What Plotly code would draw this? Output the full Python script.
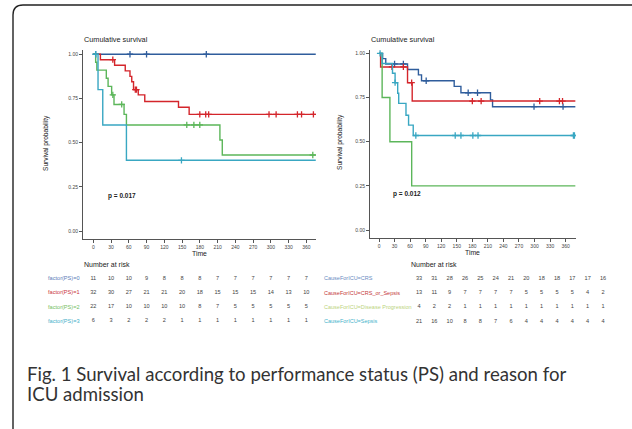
import plotly.graph_objects as go

W, H = 632, 429

# ---- Kaplan-Meier step data: performance status (PS) ----
ps_names = ["factor(PS)=0", "factor(PS)=1", "factor(PS)=2", "factor(PS)=3"]
ps_times = [
    [0, 376],
    [0, 12, 36, 54, 62, 65, 68, 76, 87, 144, 162, 376],
    [0, 4, 6, 22, 25, 31, 35, 52, 56, 214, 218, 376],
    [0, 8, 16, 56, 376],
]
ps_surv = [
    [1.0, 1.0],
    [1.0, 0.969, 0.938, 0.906, 0.875, 0.844, 0.80, 0.77, 0.733, 0.70, 0.66, 0.66],
    [1.0, 0.955, 0.91, 0.864, 0.818, 0.77, 0.716, 0.66, 0.60, 0.515, 0.43, 0.43],
    [1.0, 0.80, 0.60, 0.40, 0.40],
]
ps_cens_t = [
    [4, 62, 90, 191],
    [33, 71, 73, 180, 190, 195, 297, 309, 345, 352, 372],
    [33, 48, 158, 170, 180, 371],
    [4, 149],
]
ps_cens_s = [
    [1.0, 1.0, 1.0, 1.0],
    [0.969, 0.80, 0.80, 0.66, 0.66, 0.66, 0.66, 0.66, 0.66, 0.66, 0.66],
    [0.77, 0.716, 0.60, 0.60, 0.60, 0.43],
    [1.0, 0.40],
]

# ---- Kaplan-Meier step data: cause for ICU admission ----
icu_names = ["CauseForICU=CRS", "CauseForICU=CRS_or_Sepsis",
             "CauseForICU=Disease Progression", "CauseForICU=Sepsis"]
icu_times = [
    [0, 7, 13, 55, 76, 82, 145, 158, 215, 219, 379],
    [0, 3, 55, 64, 379],
    [0, 6, 21, 63, 379],
    [0, 6, 26, 31, 36, 38, 52, 57, 66, 379],
]
icu_surv = [
    [1.0, 0.97, 0.94, 0.909, 0.878, 0.845, 0.813, 0.777, 0.737, 0.698, 0.698],
    [1.0, 0.923, 0.834, 0.73, 0.73],
    [1.0, 0.75, 0.50, 0.25, 0.25],
    [1.0, 0.943, 0.887, 0.834, 0.774, 0.717, 0.65, 0.594, 0.535, 0.535],
]
icu_cens_t = [
    [30, 47, 91, 172, 190, 299, 355],
    [25, 47, 63, 180, 197, 310, 348, 354],
    [],
    [2, 31, 71, 147, 158, 181, 191, 375, 377],
]
icu_cens_s = [
    [0.94, 0.94, 0.845, 0.777, 0.777, 0.698, 0.698],
    [0.923, 0.923, 0.834, 0.73, 0.73, 0.73, 0.73, 0.73],
    [],
    [1.0, 0.834, 0.535, 0.535, 0.535, 0.535, 0.535, 0.535, 0.535],
]

# ---- number at risk tables ----
risk_times = [0, 30, 60, 90, 120, 150, 180, 210, 240, 270, 300, 330, 360]
ps_risk = [
    [11, 10, 10, 9, 8, 8, 8, 7, 7, 7, 7, 7, 7],
    [32, 30, 27, 21, 21, 20, 18, 15, 15, 15, 14, 13, 10],
    [22, 17, 10, 10, 10, 10, 8, 7, 5, 5, 5, 5, 5],
    [6, 3, 2, 2, 2, 1, 1, 1, 1, 1, 1, 1, 1],
]
icu_risk = [
    [33, 31, 28, 26, 25, 24, 21, 20, 18, 18, 17, 17, 16],
    [13, 11, 9, 7, 7, 7, 7, 5, 5, 5, 5, 4, 2],
    [4, 2, 2, 1, 1, 1, 1, 1, 1, 1, 1, 1, 1],
    [21, 16, 10, 8, 8, 7, 6, 4, 4, 4, 4, 4, 4],
]

curve_colors = ["#2f5d9c", "#d4252b", "#5cb65a", "#39a7c2"]
ps_label_colors = ["#5a7db8", "#c9343b", "#74c062", "#3fb0c9"]
icu_label_colors = ["#6a8cbf", "#c53a3a", "#bcd47e", "#45b3cb"]

FONT = "Liberation Sans, Arial, sans-serif"


def px(x):
    return x / W


def py(y):
    return 1 - y / H


fig = go.Figure()

# survival curves
for panel, (times, surv, ct, cs, names) in enumerate([
    (ps_times, ps_surv, ps_cens_t, ps_cens_s, ps_names),
    (icu_times, icu_surv, icu_cens_t, icu_cens_s, icu_names),
]):
    xa = "x" if panel == 0 else "x2"
    ya = "y" if panel == 0 else "y2"
    for i in range(4):
        fig.add_trace(go.Scatter(
            x=times[i], y=surv[i], mode="lines", line_shape="hv",
            line=dict(color=curve_colors[i], width=1.4),
            xaxis=xa, yaxis=ya, name=names[i], hoverinfo="skip"))
        if ct[i]:
            fig.add_trace(go.Scatter(
                x=ct[i], y=cs[i], mode="markers",
                marker=dict(symbol="cross-thin", size=4.5,
                            line=dict(color=curve_colors[i], width=1.3)),
                xaxis=xa, yaxis=ya, hoverinfo="skip"))

# risk table numbers
for panel, (risk, xa, ya) in enumerate([(ps_risk, "x3", "y3"), (icu_risk, "x4", "y4")]):
    for i in range(4):
        fig.add_trace(go.Scatter(
            x=risk_times, y=[i] * len(risk_times), text=[str(v) for v in risk[i]],
            mode="text", textposition="middle center", cliponaxis=False,
            textfont=dict(size=5.6, color="#444444", family=FONT),
            xaxis=xa, yaxis=ya, hoverinfo="skip"))

km_axis = dict(
    showline=True, linecolor="#555555", linewidth=1, showgrid=False, zeroline=False,
    ticks="outside", ticklen=3, tickcolor="#555555", tickwidth=1,
    tickfont=dict(size=5, color="#444444", family=FONT),
)
hidden = dict(visible=False, showgrid=False, zeroline=False)

fig.update_layout(
    width=W, height=H, margin=dict(l=0, r=0, t=0, b=0),
    paper_bgcolor="white", plot_bgcolor="white", showlegend=False,
    xaxis=dict(km_axis, domain=[px(83), px(316)], range=[-17.4, 376.4],
               tickvals=risk_times, anchor="y"),
    yaxis=dict(km_axis, domain=[py(239), py(50)], range=[-0.045, 1.024],
               tickvals=[0, 0.25, 0.5, 0.75, 1.0], tickformat=".2f", anchor="x"),
    xaxis2=dict(km_axis, domain=[px(370), px(575.7)], range=[-17.4, 379.4],
                tickvals=risk_times, anchor="y2"),
    yaxis2=dict(km_axis, domain=[py(238), py(50)], range=[-0.045, 1.019],
                tickvals=[0, 0.25, 0.5, 0.75, 1.0], tickformat=".2f", anchor="x2"),
    xaxis3=dict(hidden, domain=[px(83), px(316)], range=[-17.4, 376.4], anchor="y3"),
    yaxis3=dict(hidden, domain=[py(328), py(271)], range=[3.5, -0.5], anchor="x3"),
    xaxis4=dict(hidden, domain=[px(419), px(603)], range=[0, 360], anchor="y4"),
    yaxis4=dict(hidden, domain=[py(328.5), py(271)], range=[3.5, -0.5], anchor="x4"),
)

ann = []


def text(x, y, s, size, color="#222222", xanchor="left", **kw):
    ann.append(dict(x=px(x), y=py(y), xref="paper", yref="paper", text=s,
                    showarrow=False, xanchor=xanchor, yanchor="middle",
                    font=dict(size=size, color=color, family=FONT), **kw))


# panel titles and axis titles
text(82, 40, "Cumulative survival", 7.3)
text(369, 39, "Cumulative survival", 7.3)
text(199, 253, "Time", 6.8, xanchor="center")
text(472, 252, "Time", 6.8, xanchor="center")
text(46, 143, "Survival probability", 6.6, xanchor="center", textangle=-90)
text(340, 142, "Survival probability", 6.6, xanchor="center", textangle=-90)
text(82, 264, "Number at risk", 7)
text(434, 264, "Number at risk", 7, xanchor="center")

# p-values placed in data coordinates
ann.append(dict(x=48.5, y=0.198, xref="x", yref="y", text="<b>p = 0.017</b>",
                showarrow=False, font=dict(size=6.5, color="#222222", family=FONT)))
ann.append(dict(x=54, y=0.204, xref="x2", yref="y2", text="<b>p = 0.012</b>",
                showarrow=False, font=dict(size=6.5, color="#222222", family=FONT)))

# risk table row labels
for i in range(4):
    ann.append(dict(x=px(82), y=i, xref="paper", yref="y3", text=ps_names[i],
                    showarrow=False, xanchor="right", yanchor="middle",
                    font=dict(size=5.6, color=ps_label_colors[i], family=FONT)))
    ann.append(dict(x=px(322), y=i, xref="paper", yref="y4", text=icu_names[i],
                    showarrow=False, xanchor="left", yanchor="middle",
                    font=dict(size=5.5, color=icu_label_colors[i], family=FONT)))

# figure caption
for y, s in [(374, "Fig. 1 Survival according to performance status (PS) and reason for"),
             (394, "ICU admission")]:
    ann.append(dict(x=px(25), y=py(y), xref="paper", yref="paper", text=s,
                    showarrow=False, xanchor="left", yanchor="middle",
                    font=dict(size=18.6, color="#333333", family="Lato")))

fig.update_layout(annotations=ann)

# rounded frame around the figure
x0, x1, y0, y1 = px(13), px(642), py(438), py(5)
rx, ry = 10 / W, 10 / H
path = (f"M {x0+rx},{y1} L {x1-rx},{y1} Q {x1},{y1} {x1},{y1-ry} "
        f"L {x1},{y0+ry} Q {x1},{y0} {x1-rx},{y0} L {x0+rx},{y0} "
        f"Q {x0},{y0} {x0},{y0+ry} L {x0},{y1-ry} Q {x0},{y1} {x0+rx},{y1} Z")
fig.add_shape(type="path", path=path, xref="paper", yref="paper",
              line=dict(color="#222222", width=1.4))

fig.write_html("out.html")
